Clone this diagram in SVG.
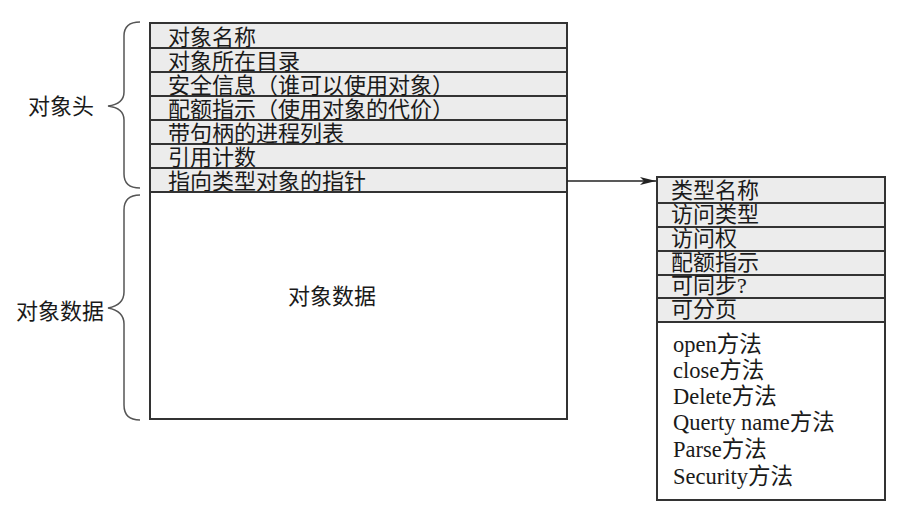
<svg xmlns="http://www.w3.org/2000/svg" width="901" height="517" viewBox="0 0 901 517">
<defs>
<style>
.row{fill:#ececec;stroke:#333;stroke-width:2}
.box{fill:#fff;stroke:#333;stroke-width:2}
.t{font-family:"Liberation Serif","Noto Sans CJK SC",serif;font-size:22px;fill:#1a1a1a}
.m{font-family:"Liberation Serif","Noto Sans CJK SC",serif;font-size:22.5px;fill:#1a1a1a}
.brace{fill:none;stroke:#555;stroke-width:1.5}
.conn{fill:none;stroke:#222;stroke-width:1.5}
</style>
<marker id="ah" markerWidth="17" markerHeight="10" refX="16" refY="5" orient="auto" markerUnits="userSpaceOnUse">
<path d="M0,1 L16,5 L0,9 L4,5 Z" fill="#222"/>
</marker>
</defs>
<rect width="901" height="517" fill="#fff"/>

<g id="object-header">
<rect class="row" x="150" y="23" width="417" height="25"/>
<rect class="row" x="150" y="48" width="417" height="24"/>
<rect class="row" x="150" y="72" width="417" height="24"/>
<rect class="row" x="150" y="96" width="417" height="24"/>
<rect class="row" x="150" y="120" width="417" height="24"/>
<rect class="row" x="150" y="144" width="417" height="24"/>
<rect class="row" x="150" y="168" width="417" height="24"/>
<text class="t" x="168" y="45">对象名称</text>
<text class="t" x="168" y="69">对象所在目录</text>
<text class="t" x="168" y="93">安全信息（谁可以使用对象）</text>
<text class="t" x="168" y="117">配额指示（使用对象的代价）</text>
<text class="t" x="168" y="141">带句柄的进程列表</text>
<text class="t" x="168" y="165">引用计数</text>
<text class="t" x="168" y="189">指向类型对象的指针</text>
</g>

<g id="object-data">
<rect class="box" x="150" y="192" width="417" height="227"/>
<text class="t" x="288" y="304">对象数据</text>
</g>

<g id="brace-header">
<path class="brace" d="M140,22 Q124,22 124,36 L124,92 Q124,104 108,106 Q124,108 124,120 L124,174 Q124,188 140,188"/>
<text class="t" x="28" y="114">对象头</text>
</g>

<g id="brace-data">
<path class="brace" d="M140,195 Q124,195 124,210 L124,292 Q124,305 108,308 Q124,311 124,324 L124,405 Q124,420 140,420"/>
<text class="t" x="16" y="319">对象数据</text>
</g>

<g id="type-object">
<rect class="row" x="657" y="177" width="228" height="26"/>
<rect class="row" x="657" y="203" width="228" height="24"/>
<rect class="row" x="657" y="227" width="228" height="24"/>
<rect class="row" x="657" y="251" width="228" height="24"/>
<rect class="row" x="657" y="275" width="228" height="23"/>
<rect class="row" x="657" y="298" width="228" height="24"/>
<rect class="box" x="657" y="322" width="228" height="178"/>
<text class="t" x="671" y="198">类型名称</text>
<text class="t" x="671" y="222">访问类型</text>
<text class="t" x="671" y="246">访问权</text>
<text class="t" x="671" y="270">配额指示</text>
<text class="t" x="671" y="293">可同步?</text>
<text class="t" x="671" y="317">可分页</text>
<text class="m" x="673" y="352">open方法</text>
<text class="m" x="673" y="378">close方法</text>
<text class="m" x="673" y="404">Delete方法</text>
<text class="m" x="673" y="430">Querty name方法</text>
<text class="m" x="673" y="457">Parse方法</text>
<text class="m" x="673" y="484">Security方法</text>
</g>

<g id="connectors">
<path class="conn" d="M567,181 L656,181" marker-end="url(#ah)"/>
</g>
</svg>
